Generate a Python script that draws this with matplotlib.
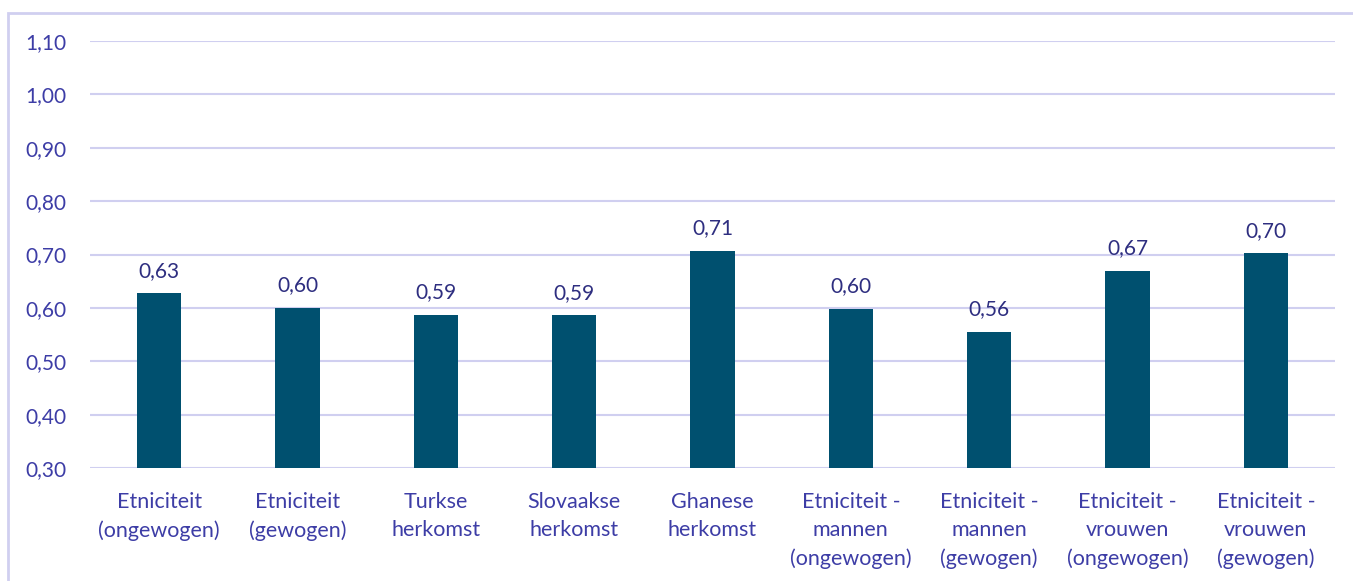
import matplotlib
matplotlib.use("Agg")
import matplotlib.pyplot as plt
from matplotlib.patches import Rectangle

categories = ["Etniciteit\n(ongewogen)", "Etniciteit\n(gewogen)", "Turkse\nherkomst",
              "Slovaakse\nherkomst", "Ghanese\nherkomst", "Etniciteit -\nmannen\n(ongewogen)",
              "Etniciteit -\nmannen\n(gewogen)", "Etniciteit -\nvrouwen\n(ongewogen)",
              "Etniciteit -\nvrouwen\n(gewogen)"]
values = [0.627, 0.600, 0.587, 0.586, 0.707, 0.598, 0.555, 0.669, 0.702]
yticks = [0.30, 0.40, 0.50, 0.60, 0.70, 0.80, 0.90, 1.00, 1.10]

plt.rcParams['font.family'] = ['Lato', 'DejaVu Sans']
W, H = 1353, 581
fig = plt.figure(figsize=(W/100, H/100), dpi=100)
ax = fig.add_axes([90/W, 1-468/H, 1245/W, 427/H])

bar_color = "#00506f"
tick_color = "#3d3da6"
label_color = "#2e2e80"
grid_color = "#d0cff0"

x = list(range(len(categories)))
ax.bar(x, values, width=0.32, color=bar_color, bottom=0, zorder=3)
ax.set_ylim(0.30, 1.10)
ax.set_xlim(-0.5, len(categories)-0.5)
ax.set_yticks(yticks)
ax.set_yticklabels([f"{v:.2f}".replace(".", ",") for v in yticks])
ax.set_xticks(x)
ax.set_xticklabels(categories, linespacing=1.5)
ax.tick_params(axis='both', length=0, colors=tick_color)
ax.tick_params(axis='y', pad=17, labelsize=15)
ax.tick_params(axis='x', pad=17, labelsize=15.5)
for s in ax.spines.values():
    s.set_visible(False)
ax.grid(axis='y', color=grid_color, linewidth=1.5, zorder=0)
ax.set_axisbelow(True)

for xi, v in zip(x, values):
    ax.annotate(f"{v:.2f}".replace(".", ","), (xi, v), xytext=(0, 9),
                textcoords='offset points', ha='center', va='bottom',
                fontsize=15, color=label_color)

fig.patches.append(Rectangle((8/W, -0.1), 1.2, 1 - 13/H + 0.1, transform=fig.transFigure,
                             fill=False, edgecolor=grid_color, linewidth=2))
fig.savefig("out.png", dpi=100)
